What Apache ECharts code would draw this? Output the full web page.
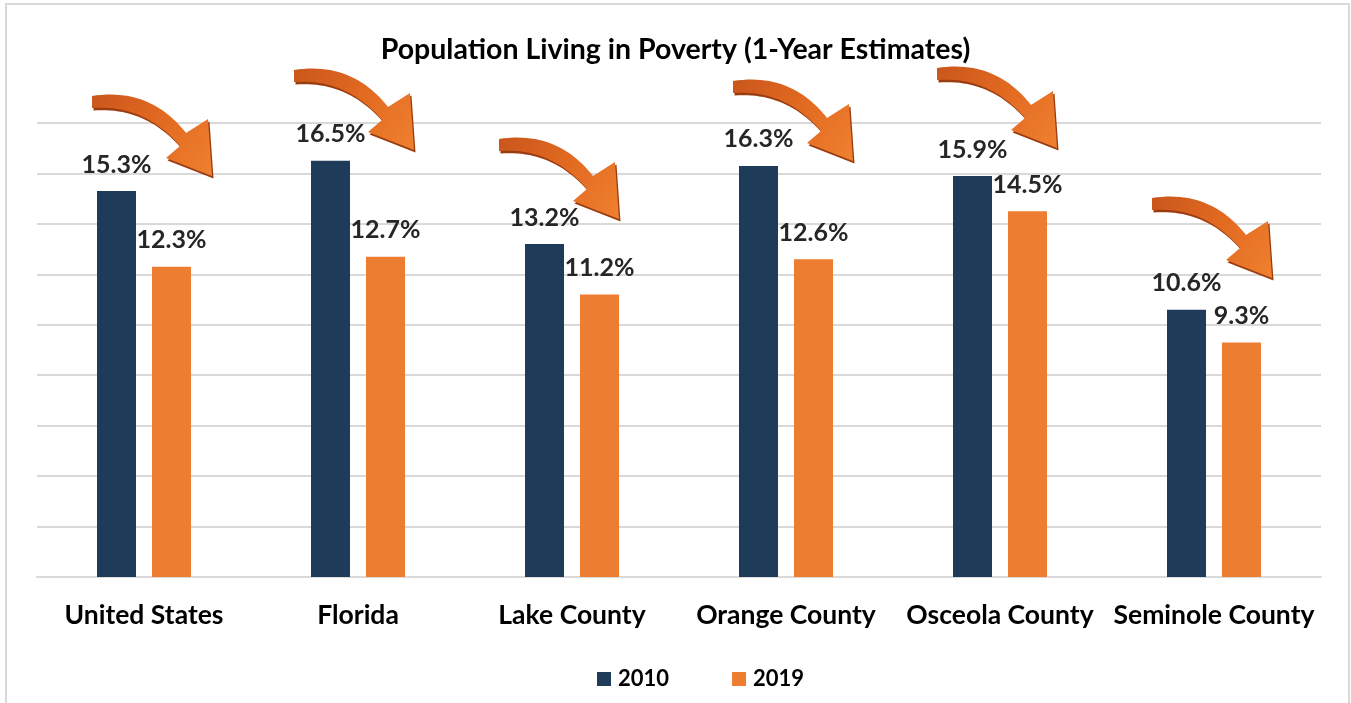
<!DOCTYPE html>
<html>
<head>
<meta charset="utf-8">
<script src="https://cdn.jsdelivr.net/npm/echarts@6/dist/echarts.min.js"></script>
<style>
html,body{margin:0;padding:0;background:#fff;}
#main{width:1351px;height:703px;}
</style>
</head>
<body>
<div id="main"></div>
<script>
var categories = ['United States', 'Florida', 'Lake County', 'Orange County', 'Osceola County', 'Seminole County'];
var values2010 = [15.3, 16.5, 13.2, 16.3, 15.9, 10.6];
var values2019 = [12.3, 12.7, 11.2, 12.6, 14.5, 9.3];
var seriesNames = ['2010', '2019'];
var titleText = 'Population Living in Poverty (1-Year Estimates)';

// decorative arrow anchor points (pixels)
var arrowAnchors = [[92, 99], [294, 73], [499, 142], [733, 84], [937, 71], [1152, 201]];

var FONT = 'Lato, "Liberation Sans", sans-serif';
var chart = echarts.init(document.getElementById('main'));

function quad(p0, c, p1, n) {
  var pts = [];
  for (var i = 0; i <= n; i++) {
    var t = i / n, a = (1 - t) * (1 - t), b = 2 * (1 - t) * t, d = t * t;
    pts.push([a * p0[0] + b * c[0] + d * p1[0], a * p0[1] + b * c[1] + d * p1[1]]);
  }
  return pts;
}
function arrowShape(ox, oy) {
  var pts = quad([0, -3], [58, -12], [94, 34], 24)
    .concat([[116, 20], [120, 77], [74, 59]])
    .concat(quad([88, 47], [52, 5], [0, 9], 24));
  return pts.map(function (p) { return [p[0] + ox, p[1] + oy]; });
}

var graphics = [{
  type: 'rect', silent: true, z: 0,
  shape: { x: 6, y: 4, width: 1343, height: 740 },
  style: { fill: 'none', stroke: '#d9d9d9', lineWidth: 2 }
}];
arrowAnchors.forEach(function (p) {
  graphics.push({
    type: 'polygon', silent: true, z: 10,
    shape: { points: arrowShape(p[0] + 1.5, p[1] + 2.5) },
    style: { fill: '#9a3c10' }
  });
  graphics.push({
    type: 'polygon', silent: true, z: 11,
    shape: { points: arrowShape(p[0], p[1]) },
    style: {
      fill: new echarts.graphic.LinearGradient(0, 0, 1, 1, [
        { offset: 0, color: '#c9561c' },
        { offset: 0.45, color: '#e06820' },
        { offset: 1, color: '#f0802f' }
      ])
    }
  });
});

var labelStyle = {
  show: true, position: 'top', distance: 14,
  formatter: function (p) { return p.value.toFixed(1) + '%'; },
  fontFamily: FONT, fontWeight: 'bold', fontSize: 25, color: '#262626'
};

chart.setOption({
  animation: false,
  backgroundColor: '#ffffff',
  title: {
    text: titleText, left: 'center', top: 30,
    textStyle: { fontFamily: FONT, fontWeight: 'bold', fontSize: 28.5, color: '#000' }
  },
  legend: {
    data: seriesNames, left: 592, top: 663,
    itemWidth: 14, itemHeight: 14, itemGap: 63, icon: 'rect',
    textStyle: { fontFamily: FONT, fontWeight: 'bold', fontSize: 22, color: '#000', padding: [0, 0, 0, 2] }
  },
  grid: { left: 37, right: 30, top: 123, bottom: 126 },
  xAxis: {
    type: 'category', data: categories,
    axisLine: { show: true, lineStyle: { color: '#d9d9d9', width: 2 } },
    axisTick: { show: false },
    axisLabel: { interval: 0, margin: 25, fontFamily: FONT, fontWeight: 'bold', fontSize: 26.5, color: '#000' }
  },
  yAxis: {
    type: 'value', min: 0, max: 18, interval: 2,
    axisLabel: { show: false }, axisLine: { show: false }, axisTick: { show: false },
    splitLine: { lineStyle: { color: '#d9d9d9', width: 2 } }
  },
  series: [
    { name: seriesNames[0], type: 'bar', data: values2010, barWidth: 39, barGap: '41%',
      itemStyle: { color: '#1e3b59' }, label: labelStyle },
    { name: seriesNames[1], type: 'bar', data: values2019, barWidth: 39,
      itemStyle: { color: '#ed7d31' }, label: labelStyle }
  ],
  graphic: graphics
});
</script>
</body>
</html>
